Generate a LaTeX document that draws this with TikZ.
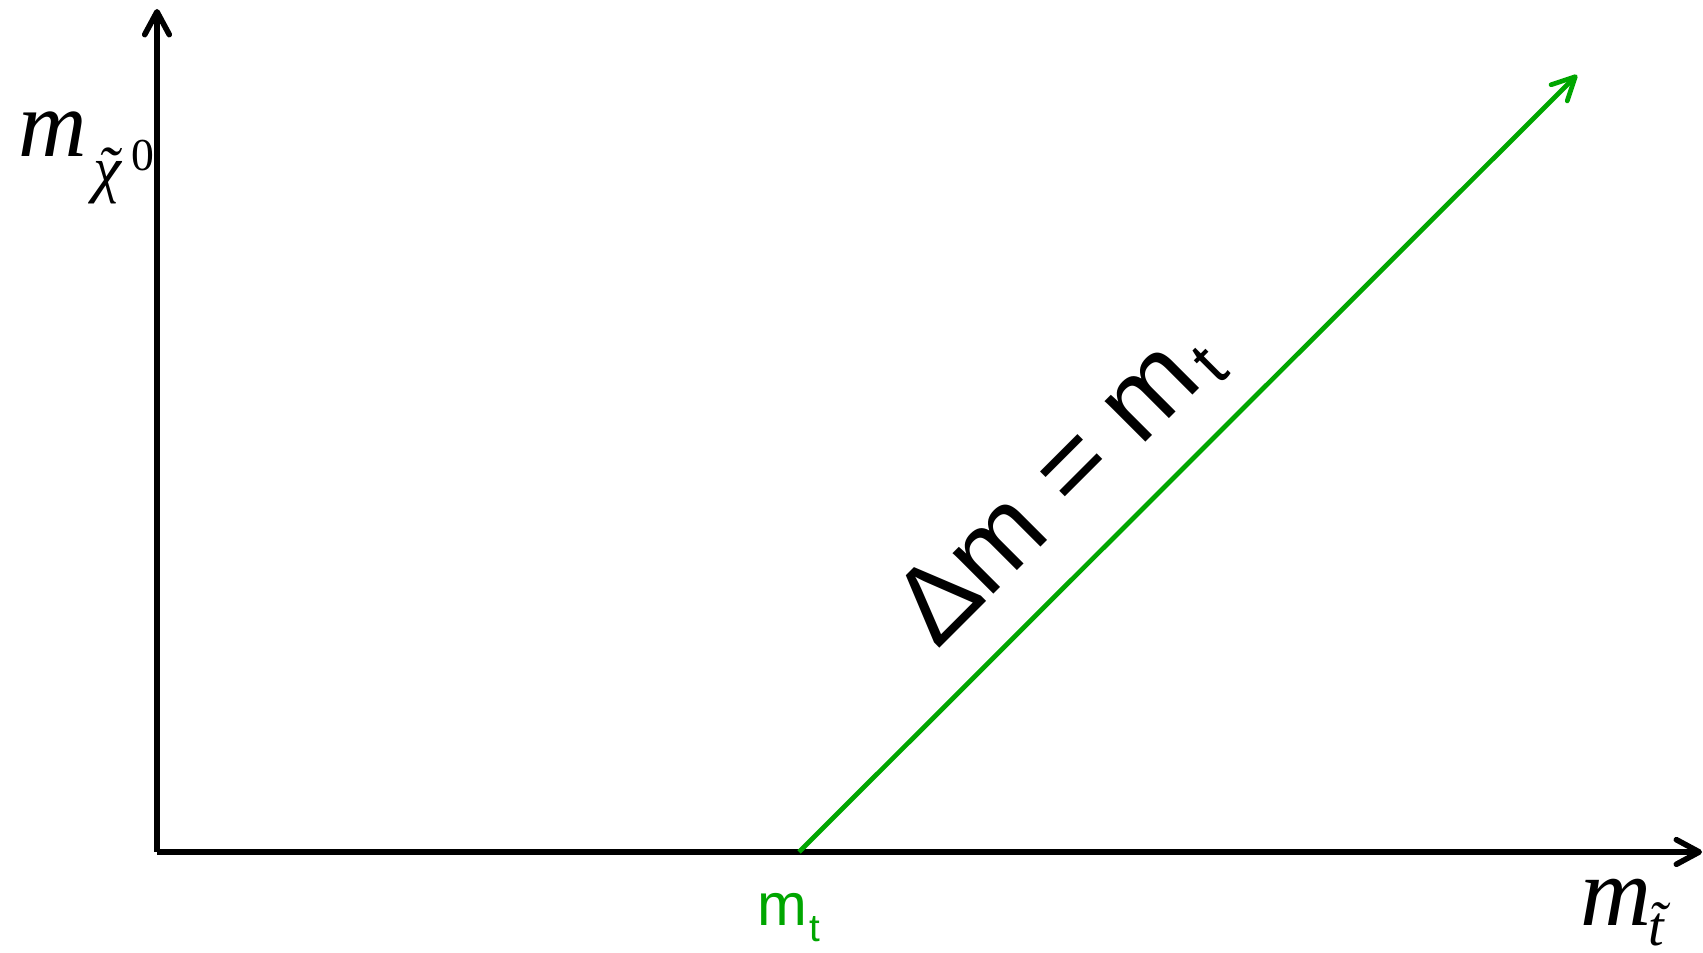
\documentclass[tikz,border=0pt]{standalone}
\usepackage{fontspec}
\setmainfont{Liberation Sans}
\newfontfamily\timesfont{Liberation Serif}
\definecolor{LineGreen}{HTML}{00A600}
\usetikzlibrary{positioning,arrows.meta}

\begin{document}
\begin{tikzpicture}[
      axis/.style={line width=1.6pt, -{Straight Barb[length=6.5pt, width=7pt, round]}},
      diag/.style={line width=1.35pt, LineGreen, -{Straight Barb[length=6.5pt, width=6.5pt, round]}},
      lab/.style={inner sep=0pt, anchor=base west}]
      \useasboundingbox (0,0) rectangle (17.03,9.53);
      \coordinate (O) at (1.57,1.01);
      \coordinate (ytop) at (1.57,9.44);
      \coordinate (xend) at (17.02,1.01);
      \coordinate (mt) at (7.99,1.01);
      \coordinate (diagend) at (15.77,8.78);
      \draw[axis] (O)--(ytop);
      \draw[axis] (O)--(xend);
      \draw[diag] (mt)--(diagend);
      % axis labels
      \node[lab, font=\timesfont\fontsize{27pt}{27pt}\selectfont\itshape] (ym) at (0.18,7.96) {m};
      \node[lab, font=\timesfont\fontsize{18pt}{18pt}\selectfont\itshape] (ychi) at (0.93,7.62) {\accent"02DC χ};
      \node[lab, font=\timesfont\fontsize{13pt}{13pt}\selectfont] (yzero) at (1.31,7.82) {0};
      \node[lab, font=\timesfont\fontsize{28pt}{28pt}\selectfont\itshape] (xm) at (15.80,0.27) {m};
      \node[lab, font=\timesfont\fontsize{16pt}{16pt}\selectfont\itshape] (xt) at (16.48,0.07) {\accent"02DC t};
      % top mass
      \node[lab, LineGreen, font=\fontsize{17pt}{17pt}\selectfont] (mtm) at (7.57,0.27) {m};
      \node[lab, LineGreen, font=\fontsize{11pt}{11pt}\selectfont] (mtt) at (8.09,0.11) {t};
      \node[lab, rotate=45, font=\fontsize{31pt}{31pt}\selectfont] (dm) at (9.37,3.02)
        {Δm = m\kern2pt\raisebox{-0.12cm}{\fontsize{19pt}{19pt}\selectfont t}};
    \end{tikzpicture}
\end{document}
